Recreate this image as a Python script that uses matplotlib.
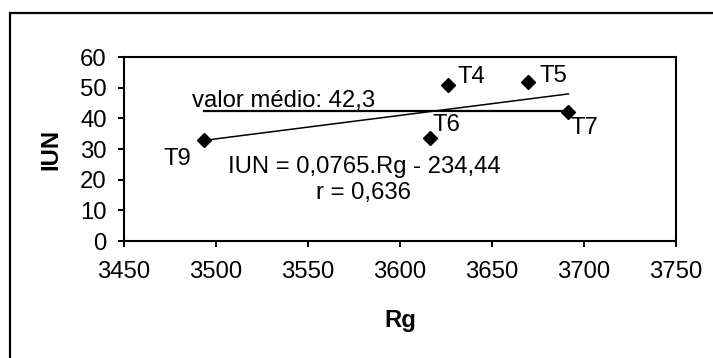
import matplotlib
matplotlib.use("Agg")
import matplotlib.pyplot as plt
from matplotlib.patches import Rectangle

plt.rcParams['font.family'] = ['Liberation Sans', 'DejaVu Sans']

# Data
labels = ["T9", "T4", "T5", "T6", "T7"]
rg = [3493.6, 3626.3, 3669.4, 3616.3, 3691.5]
iun = [33.0, 51.0, 52.0, 33.5, 42.0]
mean_iun = 42.3
slope = 0.0765
intercept = -234.44
x_ticks = [3450, 3500, 3550, 3600, 3650, 3700, 3750]
y_ticks = [0, 10, 20, 30, 40, 50, 60]

W, H = 713, 358
fig = plt.figure(figsize=(W / 100, H / 100), dpi=100)
ax = fig.add_axes([124 / W, 1 - 241 / H, (676 - 124) / W, (241 - 57) / H])

fs = 17.2

# trend line
xmin, xmax = min(rg), max(rg)
ax.plot([xmin, xmax], [slope * xmin + intercept, slope * xmax + intercept],
        color='black', lw=1.1, zorder=2)
# mean line
ax.plot([xmin, xmax], [mean_iun, mean_iun], color='black', lw=1.6, zorder=2)
# points
ax.plot(rg, iun, linestyle='none', marker='D', ms=6.8, color='black', zorder=3)

offsets = {"T9": (-27, -19), "T4": (23, 8), "T5": (26, 6), "T6": (16, 13), "T7": (16, -16)}
for lab, x, y in zip(labels, rg, iun):
    dx, dy = offsets[lab]
    ax.annotate(lab, (x, y), xytext=(dx * 0.72, dy * 0.72), textcoords='offset points',
                ha='center', va='center', fontsize=fs)

ax.annotate("valor médio: " + str(mean_iun).replace('.', ','), (xmin, mean_iun),
            xytext=(-12 * 0.72, 4 * 0.72), textcoords='offset points',
            ha='left', va='baseline', fontsize=fs)

ax.text((364 - 124) / 552, (241 - 180) / 184,
        "IUN = 0,0765.Rg - 234,44\nr = 0,636",
        transform=ax.transAxes, ha='center', va='center', multialignment='center',
        fontsize=fs, linespacing=1.28)

ax.set_xlim(3450, 3750)
ax.set_ylim(0, 60)
ax.set_xticks(x_ticks)
ax.set_yticks(y_ticks)
ax.tick_params(axis='both', direction='out', length=4.5, width=1.4, labelsize=fs,
               color='black')
ax.tick_params(axis='x', pad=10)
ax.tick_params(axis='y', pad=8)
for s in ax.spines.values():
    s.set_linewidth(1.5)
    s.set_color('black')

fig.text(400 / W, 1 - 321 / H, "Rg", ha='center', va='center', fontsize=fs, weight='bold')
fig.text(51 / W, 1 - 149 / H, "IUN", ha='center', va='center', fontsize=fs, weight='bold',
         rotation=90)

top = 1 - 13 / H
fig.patches.append(Rectangle((10 / W, -0.2), 1.2, top + 0.2,
                             transform=fig.transFigure, fill=False, edgecolor='black',
                             lw=1.6, clip_on=False))

fig.savefig("out.png", dpi=100)
